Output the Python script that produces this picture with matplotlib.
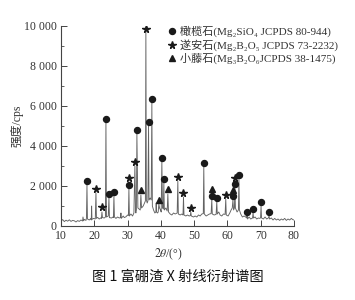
import matplotlib
matplotlib.use("Agg")
import matplotlib.pyplot as plt
from matplotlib.ticker import FuncFormatter, MultipleLocator

plt.rcParams['font.family'] = ['Liberation Serif', 'Noto Sans CJK SC', 'DejaVu Sans']
plt.rcParams['mathtext.fontset'] = 'stix'

# ---- XRD trace (2theta, intensity) ----
two_theta = [10.0, 10.5, 11.0, 11.5, 12.0, 12.5, 13.0, 13.5, 14.0, 14.5, 15.0, 15.5, 16.0, 16.5,
             16.6, 16.8, 17.0, 17.5, 17.65, 17.8, 17.95, 18.5, 19.0, 19.1, 19.2, 19.3, 19.8,
             20.3, 20.5, 20.65, 21.0, 21.5, 22.0, 22.15, 22.3, 22.45, 23.0, 23.35, 23.5, 23.65,
             24.2, 24.4, 24.55, 25.2, 25.6, 25.75, 25.9, 26.05, 26.5, 27.0, 27.5, 27.9, 28.0,
             28.1, 28.7, 29.0, 29.5, 30.0, 30.25, 30.4, 30.55, 31.0, 31.5, 31.9, 32.2, 32.4,
             32.5, 32.65, 32.8, 33.1, 33.8, 34.0, 34.2, 34.7, 35.2, 35.35, 35.5, 35.65, 35.9,
             36.1, 36.3, 36.45, 36.8, 37.1, 37.3, 37.45, 37.8, 38.2, 38.5, 38.6, 38.7, 39.0,
             39.2, 39.4, 39.6, 39.9, 40.1, 40.3, 40.5, 40.75, 40.9, 41.05, 41.5, 41.9, 42.1,
             42.3, 42.8, 43.3, 43.8, 44.3, 44.9, 45.1, 45.25, 45.8, 46.3, 46.65, 46.8, 46.95,
             47.5, 48.0, 48.5, 48.85, 49.0, 49.15, 49.8, 50.3, 50.8, 51.3, 51.8, 52.3, 52.75,
             52.9, 53.05, 53.6, 54.1, 54.6, 55.1, 55.3, 55.45, 56.0, 56.6, 56.8, 56.95, 57.4,
             57.8, 58.3, 58.8, 59.3, 59.5, 59.65, 60.2, 60.7, 61.1, 61.45, 61.65, 61.85, 62.1,
             62.25, 62.4, 62.9, 63.3, 63.45, 63.6, 64.0, 64.5, 65.0, 65.5, 65.75, 65.9, 66.05,
             66.5, 67.0, 67.55, 67.7, 67.85, 68.3, 68.8, 69.3, 69.8, 69.95, 70.1, 70.25, 70.8,
             71.3, 71.8, 72.3, 72.5, 72.65, 73.2, 73.7, 74.2, 74.7, 75.2, 75.7, 76.2, 76.7,
             77.2, 77.7, 78.2, 78.7, 79.2, 79.6, 80.0]
intensity = [250, 320, 220, 290, 240, 310, 230, 280, 260, 200, 270, 230, 300, 250,
             450, 260, 330, 280, 400, 2050, 350, 300, 380, 300, 1000, 330, 380,
             350, 1650, 380, 430, 350, 410, 380, 700, 420, 400, 450, 5200, 450,
             500, 1400, 420, 400, 450, 420, 1500, 450, 380, 450, 400, 420, 650,
             380, 500, 420, 460, 550, 520, 1850, 500, 600, 500, 650, 3000, 700,
             650, 800, 4600, 900, 800, 1550, 900, 1000, 1200, 1250, 9700, 1300, 1150,
             1250, 5000, 1300, 1400, 1300, 6150, 1000, 800, 650, 700, 1150, 700, 650,
             700, 1100, 900, 800, 700, 3200, 900, 850, 2150, 800, 900, 750, 1600,
             700, 600, 550, 650, 600, 650, 2250, 600, 550, 600, 550, 1450, 550,
             500, 550, 500, 520, 700, 500, 450, 500, 450, 550, 500, 600, 620,
             2950, 600, 500, 550, 600, 620, 1300, 600, 550, 580, 1200, 600, 700,
             550, 500, 600, 580, 1350, 550, 500, 650, 800, 900, 1300, 800, 900,
             1900, 900, 700, 800, 2350, 800, 600, 450, 500, 450, 400, 520, 350,
             450, 350, 400, 650, 400, 450, 350, 400, 380, 420, 1000, 400, 350,
             450, 350, 400, 500, 350, 400, 300, 380, 300, 350, 280, 350, 300,
             380, 280, 350, 300, 380, 320, 300]

# ---- Phase markers ----
olivine_x = [17.8, 23.5, 24.4, 25.9, 30.4, 32.8, 36.3, 37.3, 40.3, 40.9, 52.9, 55.3, 56.8,
             61.65, 62.25, 63.45, 65.9, 67.7, 70.1, 72.5]
olivine_y = [2250, 5350, 1600, 1700, 2050, 4800, 5200, 6350, 3400, 2350, 3150, 1500, 1400,
             1500, 2100, 2550, 700, 850, 1200, 700]
suanite_x = [20.5, 22.3, 30.4, 32.2, 35.5, 45.1, 46.8, 49.0, 59.5, 62.25]
suanite_y = [1850, 950, 2400, 3200, 9850, 2450, 1650, 900, 1550, 2400]
kotoite_x = [34.0, 39.4, 42.1, 55.3, 61.65]
kotoite_y = [1800, 1300, 1850, 1850, 1800]

legend_labels = ['橄榄石(Mg₂SiO₄ JCPDS 80-944)',
                 '遂安石(Mg₂B₂O₅ JCPDS 73-2232)',
                 '小藤石(Mg₃B₂O₆JCPDS 38-1475)']
y_ticks = [0, 2000, 4000, 6000, 8000, 10000]
x_ticks = [10, 20, 30, 40, 50, 60, 70, 80]

fig = plt.figure(figsize=(3.55, 3.0), dpi=100)
ax = fig.add_axes([61/355, 1-226/300, 233/355, 200/300])

ax.plot(two_theta, intensity, color='#626262', lw=0.65)
mk = dict(color='#1a1a1a', linestyle='none')
ax.plot(olivine_x, olivine_y, marker='o', markersize=4.3, label=legend_labels[0], **mk)
ax.plot(suanite_x, suanite_y, marker='*', markersize=5.5, label=legend_labels[1], **mk)
ax.plot(kotoite_x, kotoite_y, marker='^', markersize=4.8, label=legend_labels[2], **mk)

ax.set_xlim(10, 80)
ax.set_ylim(0, 10000)
ax.set_xticks(x_ticks)
ax.set_yticks(y_ticks)
ax.yaxis.set_minor_locator(MultipleLocator(1000))
ax.yaxis.set_major_formatter(FuncFormatter(lambda v, p: f"{int(v):,}".replace(',', ' ')))
for s in ['top', 'right']:
    ax.spines[s].set_visible(False)
for s in ['left', 'bottom']:
    ax.spines[s].set_color('#444444')
    ax.spines[s].set_linewidth(0.8)
ax.tick_params(direction='in', length=4, width=0.7, colors='#444444', labelsize=8.5,
               labelcolor='#333333', pad=3)
ax.tick_params(which='minor', direction='in', length=2.5, width=0.6, colors='#444444')

ax.set_ylabel('强度/cps', fontsize=8.5, color='#333333')
ax.yaxis.set_label_coords(-0.16, 0.5)
ax.set_xlabel('$2\\theta$/(°)', fontsize=8.5, color='#333333')
ax.xaxis.set_label_coords(0.46, -0.105)

leg = ax.legend(loc='upper left', bbox_to_anchor=(162/355, 1-20/300),
                bbox_transform=fig.transFigure, frameon=False, fontsize=8,
                borderpad=0, handlelength=0.8, handletextpad=0.35, labelspacing=0.18)
for t in leg.get_texts():
    t.set_color('#333333')

fig.text(0.501, 1-277/300, '图 1 富硼渣 X 射线衍射谱图', ha='center', va='center',
         fontsize=10.3, family=['Noto Sans CJK SC', 'DejaVu Sans'], color='#111111')

fig.savefig('out.png', dpi=100)
